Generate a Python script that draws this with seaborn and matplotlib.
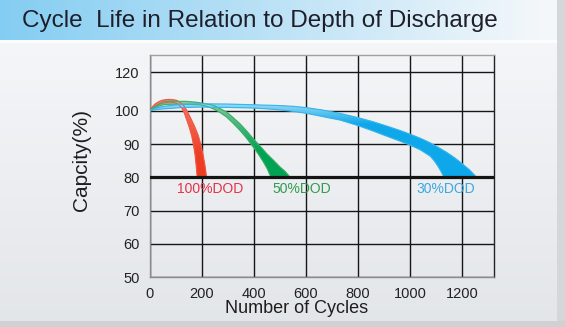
import numpy as np
import pandas as pd
import matplotlib
matplotlib.use("Agg")
import matplotlib.pyplot as plt
from matplotlib.colors import LinearSegmentedColormap, to_rgb
import seaborn as sns

# ---- data -------------------------------------------------------------
# each DOD curve is a band between an outer and an inner edge
red_outer_x = [0, 10, 21, 33, 47, 62, 79, 93, 105, 118, 133, 146, 159, 173, 187, 197, 206, 213, 219]
red_outer_y = [100, 101.9, 103.5, 104.5, 105.4, 105.8, 105.9, 105.7, 105.4, 104.2, 102.4, 99.7, 97.6, 95.3, 92.6, 89.8, 86.6, 83.5, 80]
red_inner_x = [0, 12, 25, 38, 52, 66, 79, 92, 105, 115, 124, 134, 143, 153, 162, 169, 175, 179, 183]
red_inner_y = [100, 101.4, 102.4, 103.3, 104.0, 104.3, 104.5, 104.3, 103.8, 102.8, 101.4, 99.2, 97.2, 94.9, 92.4, 89.6, 86.6, 83.5, 80]

green_outer_x = [0, 20, 40, 59, 85, 110, 140, 175, 210, 245, 270, 296, 320, 347, 372, 398, 424, 450, 476, 501, 520, 540]
green_outer_y = [100, 102.3, 103.8, 104.7, 104.9, 104.9, 104.9, 104.5, 103.8, 102.8, 101.2, 99.6, 98.0, 96.1, 94.0, 91.6, 89.4, 87.1, 85.1, 83.1, 81.8, 80]
green_inner_x = [0, 20, 40, 59, 85, 110, 150, 194, 220, 245, 270, 296, 320, 347, 372, 398, 418, 437, 452, 466]
green_inner_y = [100, 101.6, 102.6, 103.3, 103.4, 103.3, 103.3, 103.1, 102.3, 101.0, 99.5, 98.1, 96.3, 94.1, 91.8, 89.1, 86.9, 84.6, 82.5, 80]

blue_outer_x = [0, 30, 59, 120, 194, 300, 398, 480, 552, 603, 667, 731, 801, 858, 922, 960, 1002, 1040, 1076, 1110, 1140, 1170, 1198, 1228, 1255]
blue_outer_y = [100, 101.6, 102.4, 103.3, 103.6, 103.5, 103.1, 102.8, 102.3, 101.6, 100.3, 99.2, 97.9, 96.7, 95.1, 94.1, 92.9, 91.7, 90.4, 88.9, 87.5, 85.9, 84.2, 82.2, 80]
blue_inner_x = [0, 30, 59, 120, 194, 300, 398, 480, 552, 603, 667, 731, 801, 858, 922, 960, 1002, 1040, 1076, 1092, 1106, 1118, 1130]
blue_inner_y = [100, 100.7, 101.0, 101.6, 101.9, 101.7, 101.4, 100.7, 99.8, 99.2, 98.2, 97.2, 95.5, 93.9, 92.0, 90.9, 89.6, 88.2, 86.4, 85.0, 83.4, 81.8, 80]

band_names = ["100%DOD", "50%DOD", "30%DOD"]
label_x = [233, 585, 1135]
label_y = 75.2

x_ticks = [0, 200, 400, 600, 800, 1000, 1200]
y_ticks = [50, 60, 70, 80, 90, 100, 120]

# ---- styling ----------------------------------------------------------
sns.set_theme(style="white")
plt.rcParams["font.family"] = ["Liberation Sans", "DejaVu Sans"]

W, H = 565, 327
fig = plt.figure(figsize=(W / 100, H / 100), dpi=100)

# panel background: blue title strip, grey body, soft drop shadow
bg = np.zeros((H, W, 3))
rows = np.linspace(0, 1, H)[:, None]
body_top = np.array(to_rgb("#f7f8fa"))
body_bot = np.array(to_rgb("#e3e6e9"))
bg[:] = body_top + (body_bot - body_top) * rows[..., None] * np.ones((1, W, 1))
cols = np.linspace(0, 1, W)[None, :, None]
strip_l = np.array(to_rgb("#84cdf2"))
strip_r = np.array(to_rgb("#f3f7fa"))
strip = strip_l + (strip_r - strip_l) * np.clip(cols * 1.05, 0, 1)
bg[0:40] = strip * np.ones((40, 1, 1))
bg[40:43] = np.array(to_rgb("#fbfcfd"))
bg[:, 557:] = np.array(to_rgb("#d4d6d8"))
bg[321:, :] = np.array(to_rgb("#cfd1d3"))
bg_ax = fig.add_axes([0, 0, 1, 1], zorder=-10)
bg_ax.imshow(bg, aspect="auto", extent=[0, 1, 0, 1], interpolation="bilinear")
bg_ax.set_axis_off()

fig.text(22 / W, 1 - 27.3 / H, "Cycle  Life in Relation to Depth of Discharge",
         fontsize=17.5, color="#1e1f2a", va="baseline", ha="left")

# ---- plot area --------------------------------------------------------
K = 0.576  # compression of the range above 100 %


def fwd(y):
    y = np.asarray(y, dtype=float)
    return np.where(y <= 100, y, 100 + (y - 100) * K)


def inv(t):
    t = np.asarray(t, dtype=float)
    return np.where(t <= 100, t, 100 + (t - 100) / K)


ax = fig.add_axes([149.5 / W, 1 - 277.3 / H, 344.8 / W, 222.6 / H])
ax.set_facecolor("none")
ax.set_yscale("function", functions=(fwd, inv))
y_lo, y_hi = 50, 129.2
ax.set_xlim(0, 1322.6)
ax.set_ylim(y_lo, y_hi)
ax.set_xticks(x_ticks)
ax.set_yticks(y_ticks)
ax.set_yticklabels([str(v) for v in y_ticks])
ax.set_xticklabels([str(v) for v in x_ticks])
ax.grid(True, color="#161616", lw=1.0, zorder=0)
ax.set_axisbelow(True)
ax.tick_params(length=0, pad=7, labelsize=10.5, labelcolor="#222222")
for side, c in [("left", "#8c8c8c"), ("bottom", "#8c8c8c"), ("top", "#a0a0a0"), ("right", "#222222")]:
    ax.spines[side].set_color(c)
    ax.spines[side].set_linewidth(1.0)
    ax.spines[side].set_visible(True)


def axes_frac(y):
    return float((fwd(y) - fwd(y_lo)) / (fwd(y_hi) - fwd(y_lo)))


bands = [
    (red_outer_x, red_outer_y, red_inner_x, red_inner_y, "#f47566", "#ee3c20", 104.0, 86.0),
    (green_outer_x, green_outer_y, green_inner_x, green_inner_y, "#82c99b", "#00a352", 104.0, 88.0),
    (blue_outer_x, blue_outer_y, blue_inner_x, blue_inner_y, "#8fd6f4", "#0ea8ea", 102.5, 96.0),
]

grad = np.linspace(1, 0, 256)[:, None]
edge_rows = []
for name, (ox, oy, ix, iy, light, dark, g_top, g_bot) in zip(band_names, bands):
    poly_x = list(ox) + list(ix)[::-1]
    poly_y = list(oy) + list(iy)[::-1]
    patch = ax.fill(poly_x, poly_y, color=dark, lw=0, zorder=2)[0]
    cmap = LinearSegmentedColormap.from_list(name, [dark, light])
    y0, y1 = axes_frac(g_bot), axes_frac(g_top)
    img = ax.imshow(grad, cmap=cmap, aspect="auto", transform=ax.transAxes,
                    extent=[0, 1, y0, y1], interpolation="bilinear", zorder=3)
    img.set_clip_path(patch)
    # extend the gradient's end colours beyond its range
    for lo, hi, col in [(0.0, y0, dark), (y1, 1.0, light)]:
        r = ax.fill([0, 1, 1, 0], [lo, lo, hi, hi], color=col, transform=ax.transAxes, lw=0, zorder=3)[0]
        r.set_clip_path(patch)
    for ex, ey, en in [(ox, oy, "outer"), (ix, iy, "inner")]:
        for xv, yv in zip(ex, ey):
            edge_rows.append({"cycles": xv, "capacity": yv, "band": name, "edge": en})

edges = pd.DataFrame(edge_rows)
edges["key"] = edges["band"] + "_" + edges["edge"]
sns.lineplot(data=edges, x="cycles", y="capacity", hue="band", units="key",
             estimator=None, sort=False, lw=0.8, legend=False, ax=ax, zorder=4,
             palette={"100%DOD": "#f05a48", "50%DOD": "#3fae6c", "30%DOD": "#3ab4ec"})
ax.set_xlabel("")
ax.set_ylabel("")

ax.axhline(80, color="#141414", lw=2.3, zorder=5)

label_colors = ["#e5324a", "#2f9c4e", "#3aa9e2"]
for name, lx, lc in zip(band_names, label_x, label_colors):
    ax.text(lx, label_y, name, color=lc, fontsize=10, ha="center", va="baseline", zorder=6)

fig.text(82 / W, 1 - 160 / H, "Capcity(%)", rotation=90, fontsize=15,
         ha="center", va="center", color="#1e1e1e")
fig.text(297 / W, 1 - 313.3 / H, "Number of Cycles", fontsize=13,
         ha="center", va="baseline", color="#1e1e1e")

fig.savefig("out.png", dpi=100)
